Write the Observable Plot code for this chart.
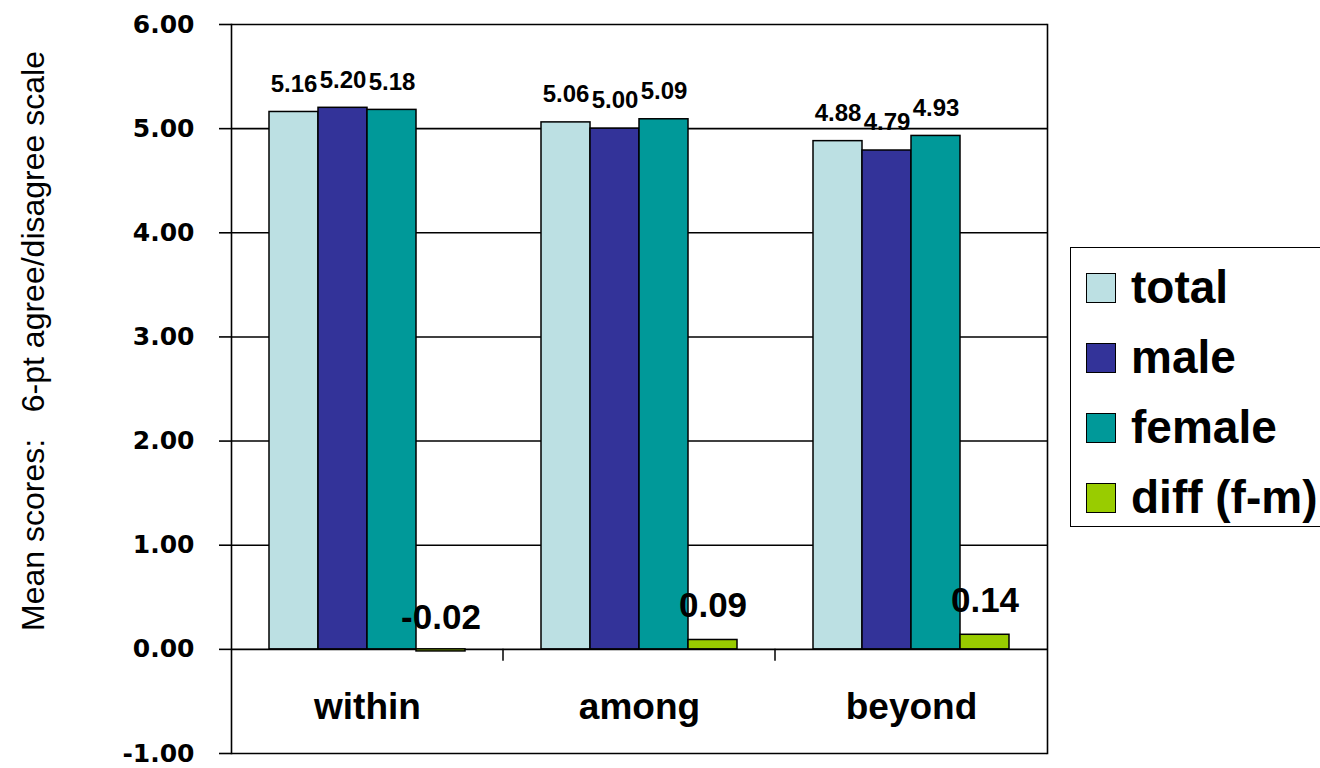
<!DOCTYPE html>
<html>
<head>
<meta charset="utf-8">
<script src="https://cdn.jsdelivr.net/npm/d3@7"></script>
<script src="https://cdn.jsdelivr.net/npm/@observablehq/plot@0.6"></script>
<style>
  html, body { margin: 0; padding: 0; background: #fff; overflow: hidden; }
  #wrap { position: relative; width: 1320px; height: 768px; overflow: hidden; font-family: "Liberation Sans", Arial, sans-serif; }
  #ytitle { position: absolute; left: 33px; top: 341px; transform: translate(-50%, -50%) rotate(-90deg); white-space: pre; font-size: 32px; color: #000; font-family: "Liberation Sans", Arial, sans-serif; }
  #legend { position: absolute; left: 1070px; top: 247px; width: 340px; height: 280px; border: 1.5px solid #000; box-sizing: border-box; background: #fff; }
  .sw { position: absolute; left: 15px; width: 30px; height: 30px; border: 1.5px solid #000; box-sizing: border-box; }
  .lt { position: absolute; left: 60px; font-size: 46px; font-weight: bold; line-height: 1; white-space: nowrap; color: #000; }
</style>
</head>
<body>
<div id="wrap">
  <div id="chart"></div>
  <div id="ytitle"></div>
  <div id="legend"></div>
</div>
<script>
// ---- data ----
const categories = ["within", "among", "beyond"];
const seriesNames = ["total", "male", "female", "diff (f-m)"];
const totalValues = [5.16, 5.06, 4.88];
const maleValues = [5.20, 5.00, 4.79];
const femaleValues = [5.18, 5.09, 4.93];
const diffValues = [-0.02, 0.09, 0.14];
const seriesColors = ["#BCE0E3", "#333399", "#009999", "#99CC00"];
const yTickValues = [-1, 0, 1, 2, 3, 4, 5, 6];
const yTitle = "Mean scores:\u00a0\u00a0 6-pt agree/disagree scale";

// ---- table ----
const seriesValues = [totalValues, maleValues, femaleValues, diffValues];
const rows = [];
categories.forEach((c, i) => {
  seriesNames.forEach((s, j) => {
    rows.push({category: c, series: s, value: seriesValues[j][i], isDiff: j === 3});
  });
});
const mainRows = rows.filter(d => !d.isDiff);
const diffRows = rows.filter(d => d.isDiff);

const plot = Plot.plot({
  width: 1320,
  height: 768,
  marginLeft: 230,
  marginRight: 272,
  marginTop: 24,
  marginBottom: 15,
  style: {fontFamily: "'Liberation Sans', Arial, sans-serif", color: "#000", background: "transparent", overflow: "visible"},
  fx: {domain: categories, padding: 0, axis: null},
  x: {domain: seriesNames, paddingInner: 0, paddingOuter: 0.75, axis: null},
  y: {domain: [-1, 6], axis: null},
  color: {domain: seriesNames, range: seriesColors},
  marks: [
    Plot.ruleY(yTickValues, {stroke: "#000", strokeWidth: 1.6}),
    Plot.barY(rows, {fx: "category", x: "series", y: "value", fill: "series", stroke: "#000", strokeWidth: 1.5}),
    Plot.text(mainRows, {fx: "category", x: "series", y: "value", text: d => d.value.toFixed(2), dy: -28, fontSize: 24, fontWeight: "bold", lineAnchor: "middle"}),
    Plot.text(diffRows, {fx: "category", x: "series", y: "value", text: d => d.value.toFixed(2), dy: -34, fontSize: 35, fontWeight: "bold", lineAnchor: "middle"}),
    Plot.text(categories, {fx: d => d, text: d => d, frameAnchor: "bottom", dy: -46, fontSize: 37, fontWeight: "bold", lineAnchor: "middle"}),
    Plot.axisY({ticks: yTickValues, tickSize: 12, tickPadding: 25, tickFormat: d => d.toFixed(2), fontSize: 25, fontWeight: "bold", fontFamily: "'DejaVu Sans', sans-serif", label: null, stroke: "#000", strokeWidth: 1.6, strokeOpacity: 1}),
    Plot.frame({anchor: "left", facetAnchor: "left", stroke: "#000", strokeWidth: 1.6}),
    Plot.frame({anchor: "right", facetAnchor: "right", stroke: "#000", strokeWidth: 1.6})
  ]
});
document.getElementById("chart").appendChild(plot);

// category boundary ticks below the zero line, placed from Plot's own scales
const fxScale = plot.scale("fx");
const yScale = plot.scale("y");
const svg = d3.select(plot);
const y0 = yScale.apply(0);
categories.slice(1).forEach(c => {
  const xp = fxScale.apply(c);
  svg.append("line")
    .attr("x1", xp).attr("x2", xp)
    .attr("y1", y0).attr("y2", y0 + 12)
    .attr("stroke", "#000").attr("stroke-width", 1.5);
});

// y title
document.getElementById("ytitle").textContent = yTitle;

// legend
const legend = document.getElementById("legend");
seriesNames.forEach((s, i) => {
  const sw = document.createElement("div");
  sw.className = "sw";
  sw.style.top = (25 + 70 * i) + "px";
  sw.style.background = seriesColors[i];
  legend.appendChild(sw);
  const t = document.createElement("div");
  t.className = "lt";
  t.style.top = (25 + 70 * i - 9) + "px";
  t.textContent = s;
  legend.appendChild(t);
});
</script>
</body>
</html>
